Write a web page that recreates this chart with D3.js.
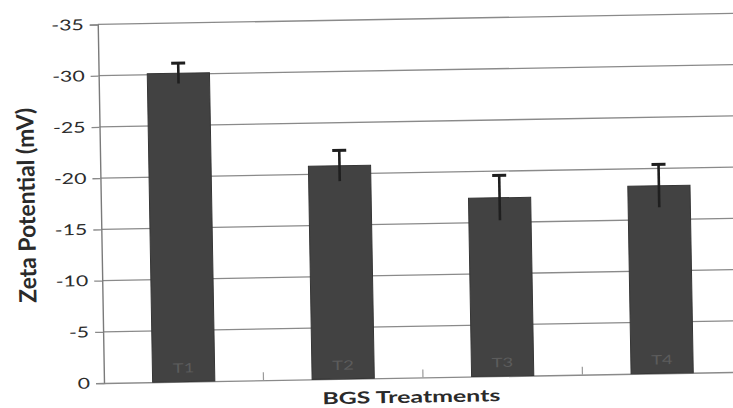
<!DOCTYPE html>
<html>
<head>
<meta charset="utf-8">
<script src="https://cdn.jsdelivr.net/npm/d3@7/dist/d3.min.js"></script>
<style>
  html, body { margin: 0; padding: 0; background: #fff; }
  svg { display: block; }
</style>
</head>
<body>
<svg id="chart" width="733" height="408"></svg>
<script>
// Zeta potential of the four BGS treatments (mV), with error bars
const categories = ["T1", "T2", "T3", "T4"];
const zeta = [-30.1, -20.8, -17.4, -18.3];
const errors = [1.0, 1.5, 2.2, 2.1];
const yTicks = [0, -5, -10, -15, -20, -25, -30, -35];
const xTitle = "BGS Treatments";
const yTitle = "Zeta Potential (mV)";

const W = 733, H = 408;
const plot = { left: 104, right: 742, top: 24.4, bottom: 383 };
const fontFamily = "Lato, 'Open Sans', 'Liberation Sans', sans-serif";
const stretch = 1.42; // wide lettering of the printed figure

const svg = d3.select("#chart");
svg.append("rect").attr("width", W).attr("height", H).attr("fill", "#fff");

// the printed page sits slightly tilted
const root = svg.append("g")
  .attr("transform", `rotate(-1, ${plot.left}, ${plot.bottom})`);

const x = d3.scaleBand()
  .domain(categories)
  .range([plot.left, plot.right])
  .paddingInner(0.61)
  .paddingOuter(0.305);

const y = d3.scaleLinear()
  .domain([0, -35])
  .range([plot.bottom, plot.top]);

// horizontal gridlines
root.append("g")
  .selectAll("line")
  .data(yTicks.filter(d => d !== 0))
  .join("line")
  .attr("x1", plot.left).attr("x2", plot.right)
  .attr("y1", d => y(d)).attr("y2", d => y(d))
  .attr("stroke", "#8a8a8a")
  .attr("stroke-width", 1.3);

// y axis
const yAxis = root.append("g")
  .attr("transform", `translate(${plot.left},0)`)
  .call(d3.axisLeft(y).tickValues(yTicks).tickSize(8).tickPadding(6)
    .tickFormat(d => String(d)));
yAxis.select(".domain").attr("stroke", "#7a7a7a").attr("stroke-width", 1.4);
yAxis.selectAll(".tick line").attr("stroke", "#8a8a8a").attr("stroke-width", 1.3);
yAxis.selectAll(".tick text")
  .attr("font-family", fontFamily)
  .attr("font-size", 15)
  .attr("fill", "#2c2c2c")
  .attr("transform", function () {
    // widen glyphs about the right edge of the label
    const tx = +d3.select(this).attr("x");
    return `translate(${tx},0) scale(${stretch},1) translate(${-tx},0)`;
  });

// x axis baseline with boundary ticks between categories
const xAxis = root.append("g")
  .attr("transform", `translate(0,${plot.bottom})`)
  .call(d3.axisBottom(x).tickSize(0).tickFormat(""));
xAxis.select(".domain").attr("stroke", "#8a8a8a").attr("stroke-width", 1.4);
const step = x.step();
const boundaries = categories.slice(1).map(c => x(c) - (step - x.bandwidth()) / 2);
xAxis.append("g")
  .selectAll("line")
  .data(boundaries)
  .join("line")
  .attr("x1", d => d).attr("x2", d => d)
  .attr("y1", 0).attr("y2", -8)
  .attr("stroke", "#9a9a9a")
  .attr("stroke-width", 1.2);

// bars
root.append("g")
  .selectAll("rect")
  .data(categories)
  .join("rect")
  .attr("x", d => x(d))
  .attr("width", x.bandwidth())
  .attr("y", (d, i) => y(zeta[i]))
  .attr("height", (d, i) => y(0) - y(zeta[i]))
  .attr("fill", "#424242")
  .attr("stroke", "#363636")
  .attr("stroke-width", 1);

// error bars
const eb = root.append("g")
  .selectAll("g")
  .data(categories)
  .join("g")
  .attr("stroke", "#1f1f1f");
eb.append("line")
  .attr("x1", d => x(d) + x.bandwidth() / 2)
  .attr("x2", d => x(d) + x.bandwidth() / 2)
  .attr("y1", (d, i) => y(zeta[i] - errors[i]))
  .attr("y2", (d, i) => y(zeta[i] + errors[i]))
  .attr("stroke-width", 2.6);
eb.append("line")
  .attr("x1", d => x(d) + x.bandwidth() / 2 - 7)
  .attr("x2", d => x(d) + x.bandwidth() / 2 + 7)
  .attr("y1", (d, i) => y(zeta[i] - errors[i]))
  .attr("y2", (d, i) => y(zeta[i] - errors[i]))
  .attr("stroke-width", 3);

// treatment names printed inside the bars
root.append("g")
  .selectAll("text")
  .data(categories)
  .join("text")
  .attr("transform", d => `translate(${x(d) + x.bandwidth() / 2},${plot.bottom - 9}) scale(${stretch},1)`)
  .attr("text-anchor", "middle")
  .attr("font-family", fontFamily)
  .attr("font-size", 13)
  .attr("fill", "#5c5c5c")
  .text(d => d);

// axis titles
root.append("text")
  .attr("x", (plot.left + plot.right) / 2 - 12)
  .attr("y", 408)
  .attr("text-anchor", "middle")
  .attr("font-family", fontFamily)
  .attr("font-weight", 700)
  .attr("font-size", 16.5)
  .attr("fill", "#2a2a2a")
  .attr("textLength", 178)
  .attr("lengthAdjust", "spacingAndGlyphs")
  .text(xTitle);

root.append("text")
  .attr("transform", `translate(38,204) scale(1.25,1) rotate(-90)`)
  .attr("text-anchor", "middle")
  .attr("font-family", fontFamily)
  .attr("font-weight", 700)
  .attr("font-size", 19)
  .attr("fill", "#2a2a2a")
  .attr("textLength", 195)
  .attr("lengthAdjust", "spacingAndGlyphs")
  .text(yTitle);
</script>
</body>
</html>
